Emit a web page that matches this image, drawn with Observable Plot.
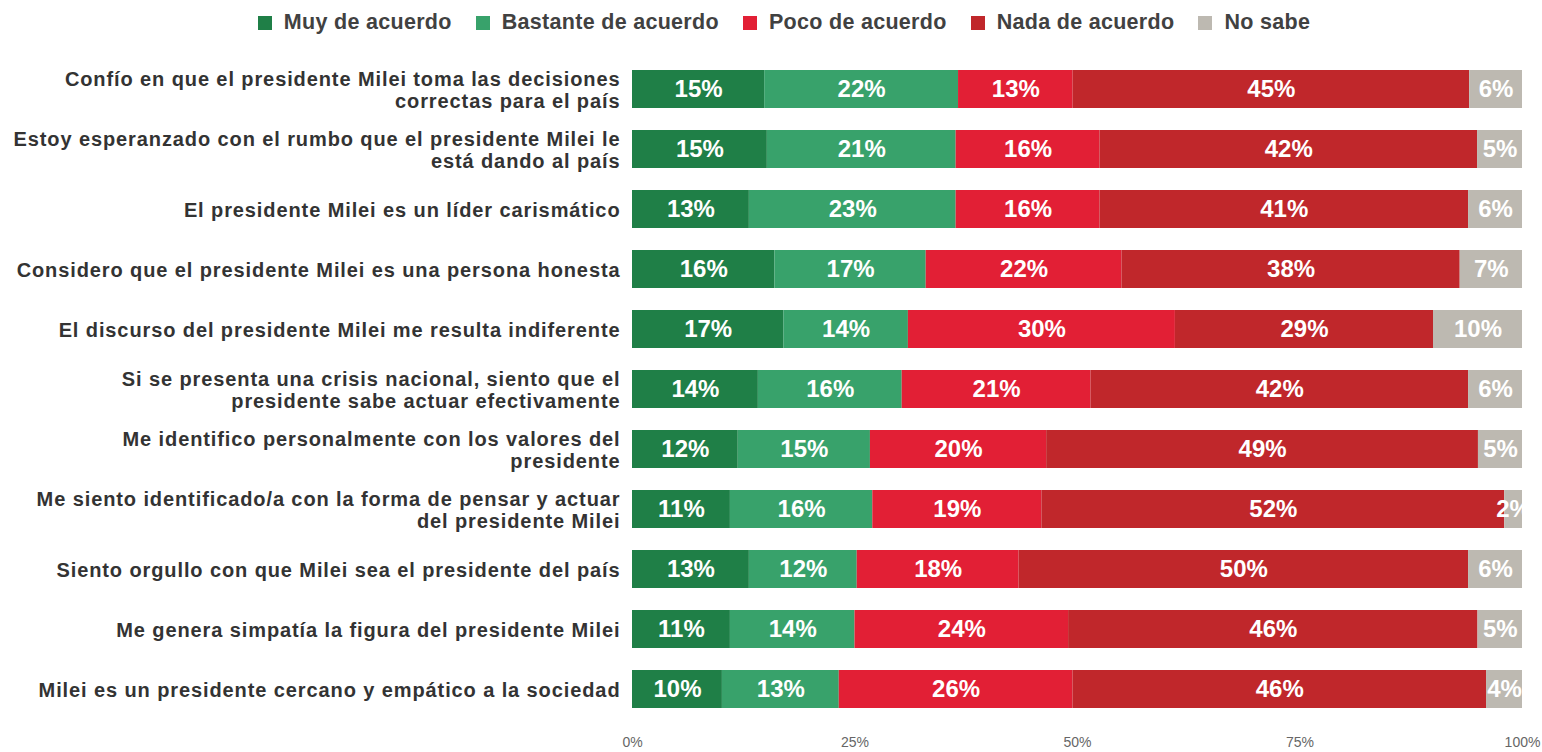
<!DOCTYPE html>
<html>
<head>
<meta charset="utf-8">
<script src="https://cdn.jsdelivr.net/npm/d3@7"></script>
<script src="https://cdn.jsdelivr.net/npm/@observablehq/plot@0.6"></script>
<style>
  html, body { margin: 0; padding: 0; background: #fff; }
  body { width: 1542px; height: 752px; overflow: hidden; font-family: "Liberation Sans", Arial, sans-serif; }
  #legend { height: 45px; display: flex; align-items: center; justify-content: center; padding-left: 26px; box-sizing: border-box; }
  .item { display: flex; align-items: center; margin: 0 12px; font-size: 21.5px; font-weight: bold; color: #414141; letter-spacing: 0.3px; }
  .sw { width: 14px; height: 14px; margin-right: 12px; }
  svg g[aria-label="y-axis tick label"] text { letter-spacing: 0.9px; }
</style>
</head>
<body>
<div id="legend"></div>
<div id="chart"></div>
<script>
const categories = ["Muy de acuerdo", "Bastante de acuerdo", "Poco de acuerdo", "Nada de acuerdo", "No sabe"];
const colors = ["#1f7f47", "#38a26b", "#e21f35", "#c0272b", "#bdb9b1"];

const items = [
  "Confío en que el presidente Milei toma las decisiones\ncorrectas para el país",
  "Estoy esperanzado con el rumbo que el presidente Milei le\nestá dando al país",
  "El presidente Milei es un líder carismático",
  "Considero que el presidente Milei es una persona honesta",
  "El discurso del presidente Milei me resulta indiferente",
  "Si se presenta una crisis nacional, siento que el\npresidente sabe actuar efectivamente",
  "Me identifico personalmente con los valores del\npresidente",
  "Me siento identificado/a con la forma de pensar y actuar\ndel presidente Milei",
  "Siento orgullo con que Milei sea el presidente del país",
  "Me genera simpatía la figura del presidente Milei",
  "Milei es un presidente cercano y empático a la sociedad"
];

const muyDeAcuerdo      = [15, 15, 13, 16, 17, 14, 12, 11, 13, 11, 10];
const bastanteDeAcuerdo = [22, 21, 23, 17, 14, 16, 15, 16, 12, 14, 13];
const pocoDeAcuerdo     = [13, 16, 16, 22, 30, 21, 20, 19, 18, 24, 26];
const nadaDeAcuerdo     = [45, 42, 41, 38, 29, 42, 49, 52, 50, 46, 46];
const noSabe            = [6, 5, 6, 7, 10, 6, 5, 2, 6, 5, 4];

const xTicks = [0, 0.25, 0.5, 0.75, 1];

const series = [muyDeAcuerdo, bastanteDeAcuerdo, pocoDeAcuerdo, nadaDeAcuerdo, noSabe];
const data = [];
items.forEach((item, i) => {
  categories.forEach((cat, j) => {
    data.push({item, cat, value: series[j][i]});
  });
});

// legend
const legend = document.getElementById("legend");
categories.forEach((c, i) => {
  const d = document.createElement("div");
  d.className = "item";
  d.innerHTML = `<span class="sw" style="background:${colors[i]}"></span><span>${c}</span>`;
  legend.appendChild(d);
});

const chart = Plot.plot({
  width: 1542,
  height: 707,
  marginLeft: 632,
  marginRight: 20,
  marginTop: 2,
  marginBottom: 22,
  style: {background: "#fff", fontFamily: "'Liberation Sans', Arial, sans-serif", overflow: "visible"},
  x: {domain: [0, 1], axis: null, label: null},
  y: {domain: items, padding: 0.367, axis: null, label: null},
  color: {domain: categories, range: colors},
  marks: [
    Plot.barX(data, Plot.stackX({x: "value", y: "item", fill: "cat", offset: "normalize", order: categories})),
    Plot.text(data, Plot.stackX({
      x: "value", y: "item", z: "cat", offset: "normalize", order: categories,
      text: d => d.value + "%", fill: "white", fontSize: 24, fontWeight: "bold"
    })),
    Plot.axisY({tickSize: 0, tickPadding: 12, fontSize: 20, fontWeight: "bold", color: "#333", lineHeight: 1.1, label: null}),
    Plot.axisX({ticks: xTicks, tickFormat: d3.format(".0%"), tickSize: 0, tickPadding: 7, fontSize: 14, color: "#666", label: null})
  ]
});
document.getElementById("chart").appendChild(chart);
</script>
</body>
</html>
